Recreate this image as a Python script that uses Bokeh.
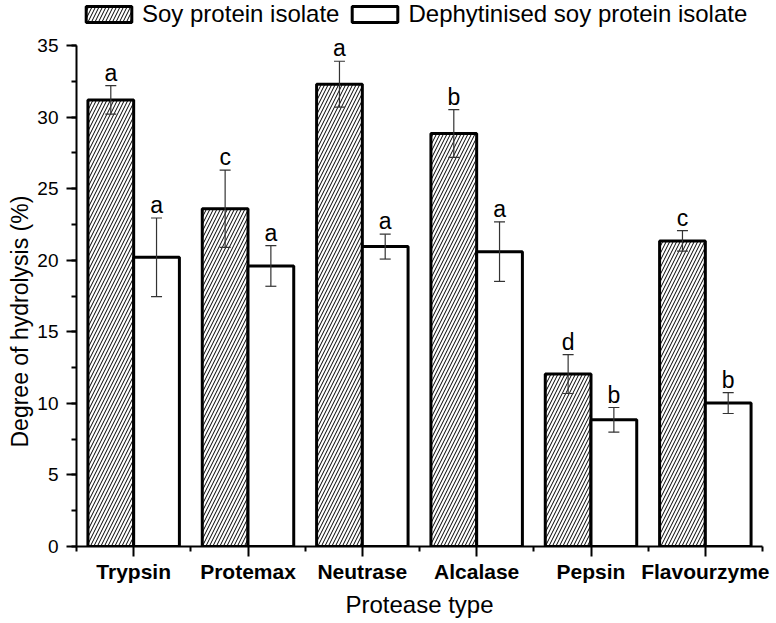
from bokeh.plotting import figure
from bokeh.models import (ColumnDataSource, Whisker, TeeHead, LabelSet, FixedTicker,
                          SingleIntervalTicker, Legend, LegendItem, Range1d, Title)
from bokeh.core.properties import value
from bokeh.embed import file_html
from bokeh.resources import INLINE

categories = ["Trypsin", "Protemax", "Neutrase", "Alcalase", "Pepsin", "Flavourzyme"]
series = ["Soy protein isolate", "Dephytinised soy protein isolate"]
spi_mean = [31.2, 23.6, 32.3, 28.85, 12.05, 21.35]
spi_err = [1.0, 2.7, 1.6, 1.67, 1.36, 0.72]
spi_letters = ["a", "c", "a", "b", "d", "c"]
dspi_mean = [20.2, 19.6, 20.95, 20.6, 8.85, 10.02]
dspi_err = [2.75, 1.42, 0.87, 2.08, 0.86, 0.73]
dspi_letters = ["a", "a", "a", "a", "b", "b"]
y_ticks_interval = 5
y_max = 35

FONT = "Liberation Sans"
BAR_W = 0.4
FRAME_H = 546
FRAME_W = 686
TOP_PX = 45  # space between frame top and the y=35 tick
y_top = y_max + TOP_PX * y_max / (FRAME_H - TOP_PX)

centers = [i + 0.5 for i in range(len(categories))]
src1 = ColumnDataSource(dict(
    x=[c - BAR_W / 2 for c in centers], top=spi_mean,
    upper=[m + e for m, e in zip(spi_mean, spi_err)],
    lower=[m - e for m, e in zip(spi_mean, spi_err)],
    letter=spi_letters))
src2 = ColumnDataSource(dict(
    x=[c + BAR_W / 2 for c in centers], top=dspi_mean,
    upper=[m + e for m, e in zip(dspi_mean, dspi_err)],
    lower=[m - e for m, e in zip(dspi_mean, dspi_err)],
    letter=dspi_letters))

p = figure(frame_width=FRAME_W, frame_height=FRAME_H, output_backend="svg", toolbar_location=None,
           x_range=Range1d(0, len(categories)), y_range=Range1d(0, y_top),
           min_border_left=76, min_border_right=12, min_border_top=0, min_border_bottom=0)
p.outline_line_color = None
p.xgrid.grid_line_color = None
p.ygrid.grid_line_color = None

r1 = p.vbar(x="x", top="top", bottom=0, width=BAR_W, source=src1,
            fill_color="white", hatch_pattern="/", hatch_scale=7, hatch_weight=1,
            hatch_color="black", line_color="black", line_width=3)
r2 = p.vbar(x="x", top="top", bottom=0, width=BAR_W, source=src2,
            fill_color="white", line_color="black", line_width=3)

for src in (src1, src2):
    w = Whisker(base="x", upper="upper", lower="lower", source=src, dimension="height",
                line_color="#333333", line_width=1.2, level="overlay",
                upper_head=TeeHead(size=11, line_color="#333333", line_width=1.2),
                lower_head=TeeHead(size=11, line_color="#333333", line_width=1.2))
    p.add_layout(w)
    lbl = LabelSet(x="x", y="upper", text="letter", source=src, text_align="center",
                   text_baseline="alphabetic", y_offset=5, text_font=value(FONT),
                   text_font_size=value("23px"), text_color="black")
    p.add_layout(lbl)

# axes
for ax in (p.xaxis[0], p.yaxis[0]):
    ax.axis_line_width = 2
    ax.major_tick_line_width = 2
    ax.minor_tick_line_width = 2
    ax.major_tick_in = 0
    ax.minor_tick_in = 0
    ax.major_tick_out = 10
    ax.minor_tick_out = 5
    ax.major_label_text_color = "black"
    ax.axis_label_text_font = FONT
    ax.axis_label_text_font_style = "normal"
    ax.axis_label_text_font_size = "24px"
    ax.axis_label_text_color = "black"

p.xaxis.ticker = FixedTicker(ticks=centers, minor_ticks=list(range(len(categories) + 1)))
p.xaxis.major_label_overrides = {c: n for c, n in zip(centers, categories)}
p.xaxis.major_label_text_font = FONT
p.xaxis.major_label_text_font_style = "bold"
p.xaxis.major_label_text_font_size = "21px"
p.xaxis.major_label_standoff = 3
p.xaxis.axis_label = "Protease type"
p.xaxis.axis_label_standoff = 5

p.yaxis.bounds = (0, y_max)
p.yaxis.ticker = SingleIntervalTicker(interval=y_ticks_interval, num_minor_ticks=2)
p.yaxis.major_label_text_font = FONT
p.yaxis.major_label_text_font_size = "19px"
p.yaxis.major_label_standoff = 8

ytitle = Title(text="Degree of hydrolysis (%)", align="left", vertical_align="top",
               offset=99, standoff=0,
               text_font=FONT, text_font_size="23px", text_font_style="normal",
               text_color="black")
p.add_layout(ytitle, "left")

legend = Legend(items=[LegendItem(label=series[0], renderers=[r1]),
                       LegendItem(label=series[1], renderers=[r2])],
                orientation="horizontal", location="top_left",
                glyph_width=57, glyph_height=20, label_text_font=FONT,
                label_text_font_size="24px", label_text_color="black",
                border_line_color=None, background_fill_alpha=0,
                padding=0, margin=0, spacing=7, label_standoff=5)
legend.location = (4, FRAME_H - 28)
p.add_layout(legend)

open("out.html", "w").write(file_html(p, INLINE))
